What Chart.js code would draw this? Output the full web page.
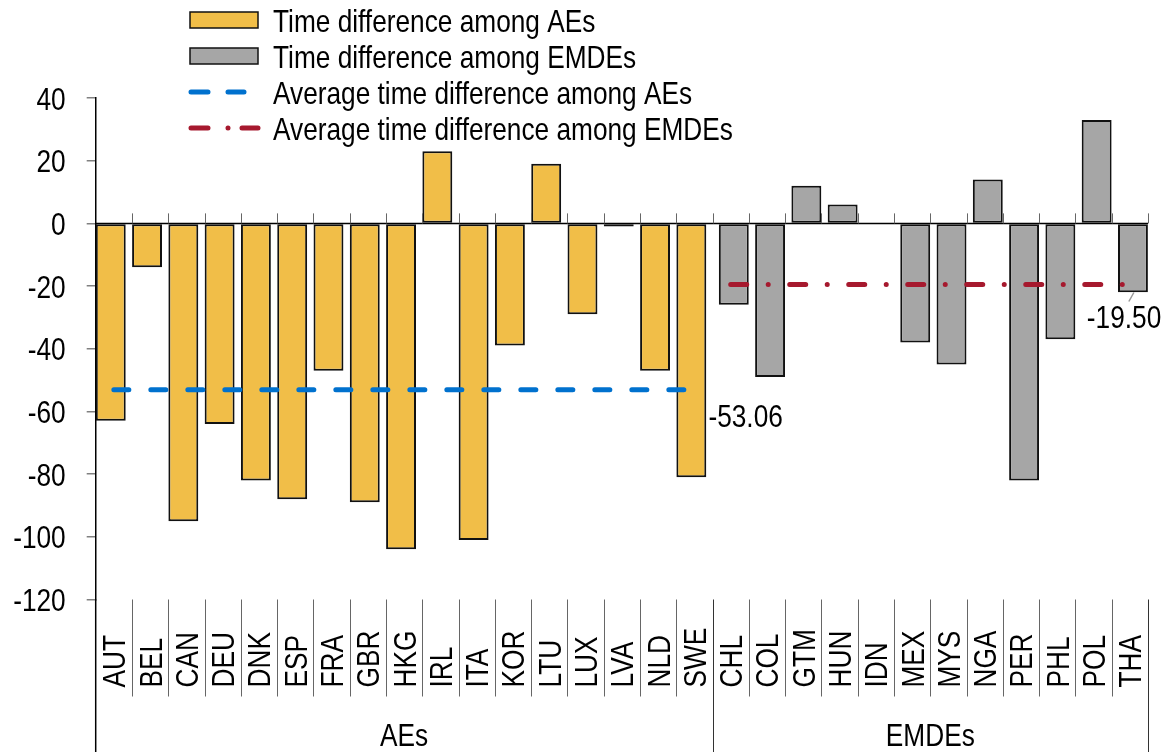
<!DOCTYPE html>
<html>
<head>
<meta charset="utf-8">
<title>Time difference among AEs and EMDEs</title>
<script src="https://cdn.jsdelivr.net/npm/chart.js@4.4.0/dist/chart.umd.min.js"></script>
<style>
  body { margin: 0; background: #fff; }
  #wrap { width: 1163px; height: 752px; position: relative; }
</style>
</head>
<body>
<div id="wrap"><canvas id="grafico"></canvas></div>
<script>
// Countries in each group
const aeCountries = ['AUT', 'BEL', 'CAN', 'DEU', 'DNK', 'ESP', 'FRA', 'GBR', 'HKG', 'IRL', 'ITA', 'KOR', 'LTU', 'LUX', 'LVA', 'NLD', 'SWE'];
const emdeCountries = ['CHL', 'COL', 'GTM', 'HUN', 'IDN', 'MEX', 'MYS', 'NGA', 'PER', 'PHL', 'POL', 'THA'];

// Values
const aeValues = [-63, -14, -95, -64, -82, -88, -47, -89, -104, 23, -101, -39, 19, -29, -1, -47, -81];
const emdeValues = [-26, -49, 12, 6, 0, -38, -45, 14, -82, -37, 33, -22];
const aeAverage = -53.06;
const emdeAverage = -19.50;

const yTicks = [40, 20, 0, -20, -40, -60, -80, -100, -120];
const groupNames = ['AEs', 'EMDEs'];
const legendNames = [
    'Time difference among AEs',
    'Time difference among EMDEs',
    'Average time difference among AEs',
    'Average time difference among EMDEs'
];

const corAmarelo = '#F1BE48';
const corCinza = '#A6A6A6';
const corAzul = '#0071CE';
const corVermelho = '#A6192E';
// no narrow font installed, so the normal one is squeezed by hand
const fonte = '32px "Liberation Sans", Arial, sans-serif';
const aperto = 0.82;
const meiaAltura = 11.5;

// Build the arrays the library needs
const labels = aeCountries.concat(emdeCountries);
const nadaAe = aeCountries.map(() => null);
const nadaEmde = emdeCountries.map(() => null);
const aeBars = aeValues.concat(nadaEmde);
const emdeBars = nadaAe.concat(emdeValues);
const aeLine = aeCountries.map(() => aeAverage).concat(nadaEmde);
const emdeLine = nadaAe.concat(emdeCountries.map(() => emdeAverage));

// write squeezed text, (x, y) is the baseline point
function textoEstreito(ctx, txt, x, y, alinhar, girar) {
    ctx.save();
    ctx.translate(x, y);
    if (girar) ctx.rotate(-Math.PI / 2);
    ctx.scale(aperto, 1);
    ctx.textAlign = alinhar;
    ctx.fillText(txt, 0, girar ? meiaAltura : 0);
    ctx.restore();
}

// Extra drawing: zero line, labels, groups, data labels, legend
const desenhoExtra = {
    id: 'desenhoExtra',
    afterDatasetsDraw(chart) {
        const ctx = chart.ctx;
        const xs = chart.scales.x;
        const ys = chart.scales.y;
        const area = chart.chartArea;
        const passo = xs.getPixelForValue(1) - xs.getPixelForValue(0);
        const y0 = ys.getPixelForValue(0);
        const fundo = chart.height;
        const nAe = aeCountries.length;

        ctx.save();

        // zero line with small marks between categories
        ctx.strokeStyle = '#000';
        ctx.lineWidth = 1.5;
        ctx.beginPath();
        ctx.moveTo(area.left, y0);
        ctx.lineTo(area.right, y0);
        ctx.stroke();
        ctx.strokeStyle = '#666';
        ctx.lineWidth = 1;
        for (let i = 1; i <= labels.length; i++) {
            const bx = Math.round(xs.getPixelForValue(i) - passo / 2) + 0.5;
            ctx.beginPath();
            ctx.moveTo(bx, y0 - 10);
            ctx.lineTo(bx, y0);
            ctx.stroke();
        }

        // separators under the plot
        for (let i = 1; i <= labels.length; i++) {
            const bx = Math.round(xs.getPixelForValue(i) - passo / 2) + 0.5;
            const longa = (i === nAe || i === labels.length);
            ctx.strokeStyle = longa ? '#333' : '#666';
            ctx.beginPath();
            ctx.moveTo(bx, area.bottom);
            ctx.lineTo(bx, longa ? fundo : area.bottom + 97);
            ctx.stroke();
        }
        // y axis goes all the way down
        ctx.strokeStyle = '#000';
        ctx.lineWidth = 1.5;
        ctx.beginPath();
        ctx.moveTo(area.left, area.bottom);
        ctx.lineTo(area.left, fundo);
        ctx.stroke();

        ctx.fillStyle = '#000';
        ctx.font = fonte;
        ctx.textBaseline = 'alphabetic';

        // y tick labels
        yTicks.forEach(v => {
            textoEstreito(ctx, String(v), area.left - 30, ys.getPixelForValue(v) + meiaAltura, 'right', false);
        });

        // category labels, rotated
        labels.forEach((nome, i) => {
            textoEstreito(ctx, nome, xs.getPixelForValue(i), area.bottom + 88, 'left', true);
        });

        // group labels
        const limite = xs.getPixelForValue(nAe) - passo / 2;
        textoEstreito(ctx, groupNames[0], (area.left + limite) / 2, fundo - 6, 'center', false);
        textoEstreito(ctx, groupNames[1], (limite + area.right) / 2, fundo - 6, 'center', false);

        // data labels for the averages
        const yAe = ys.getPixelForValue(aeAverage);
        textoEstreito(ctx, aeAverage.toFixed(2), xs.getPixelForValue(nAe - 1) + 14, yAe + 37, 'left', false);
        const yEm = ys.getPixelForValue(emdeAverage);
        const xEm = xs.getPixelForValue(labels.length - 1);
        textoEstreito(ctx, emdeAverage.toFixed(2), xEm - 43, yEm + 44, 'left', false);
        ctx.strokeStyle = '#999';
        ctx.lineWidth = 1.5;
        ctx.beginPath();
        ctx.moveTo(xEm + 4, yEm + 8);
        ctx.lineTo(xEm - 1, yEm + 17);
        ctx.stroke();

        // legend
        const lx = 190, tx = 273;
        const linhas = [20, 56, 92, 128];
        [corAmarelo, corCinza].forEach((cor, k) => {
            ctx.fillStyle = cor;
            ctx.fillRect(lx, linhas[k] - 8, 68, 16);
            ctx.strokeStyle = '#111';
            ctx.lineWidth = 1.5;
            ctx.strokeRect(lx, linhas[k] - 8, 68, 16);
        });
        ctx.lineCap = 'round';
        ctx.lineWidth = 5;
        ctx.strokeStyle = corAzul;
        ctx.beginPath();
        ctx.moveTo(lx + 1, linhas[2]); ctx.lineTo(lx + 18, linhas[2]);
        ctx.moveTo(lx + 38, linhas[2]); ctx.lineTo(lx + 54, linhas[2]);
        ctx.stroke();
        ctx.strokeStyle = corVermelho;
        ctx.beginPath();
        ctx.moveTo(lx + 1, linhas[3]); ctx.lineTo(lx + 18, linhas[3]);
        ctx.moveTo(lx + 38, linhas[3]); ctx.lineTo(lx + 38.01, linhas[3]);
        ctx.moveTo(lx + 52, linhas[3]); ctx.lineTo(lx + 68, linhas[3]);
        ctx.stroke();
        ctx.fillStyle = '#000';
        legendNames.forEach((nome, k) => textoEstreito(ctx, nome, tx, linhas[k] + meiaAltura, 'left', false));

        ctx.restore();
    }
};

var ctxGrafico = document.getElementById('grafico').getContext('2d');
var grafico = new Chart(ctxGrafico, {
    type: 'bar',
    data: {
        labels: labels,
        datasets: [{
            label: legendNames[0],
            data: aeBars,
            backgroundColor: corAmarelo,
            borderColor: '#111',
            borderWidth: 2,
            borderSkipped: false,
            categoryPercentage: 0.34,
            barPercentage: 4.85,
            order: 2
        }, {
            label: legendNames[1],
            data: emdeBars,
            backgroundColor: corCinza,
            borderColor: '#111',
            borderWidth: 2,
            borderSkipped: false,
            categoryPercentage: 0.34,
            barPercentage: 4.85,
            order: 2
        }, {
            type: 'line',
            label: legendNames[2],
            data: aeLine,
            borderColor: corAzul,
            borderWidth: 5,
            borderDash: [15, 22],
            borderCapStyle: 'round',
            pointRadius: 0,
            spanGaps: false,
            order: 1
        }, {
            type: 'line',
            label: legendNames[3],
            data: emdeLine,
            borderColor: corVermelho,
            borderWidth: 5,
            borderDash: [16, 21.5, 0.01, 21.5],
            borderCapStyle: 'round',
            pointRadius: 0,
            spanGaps: false,
            order: 1
        }]
    },
    options: {
        responsive: true,
        maintainAspectRatio: false,
        animation: false,
        layout: { padding: { top: 98, right: 15, left: 0, bottom: 0 } },
        plugins: {
            legend: { display: false },
            tooltip: { enabled: false }
        },
        scales: {
            x: {
                ticks: { display: false },
                grid: { display: false },
                border: { display: false },
                afterFit: (scale) => { scale.height = 152.5; }
            },
            y: {
                min: -120,
                max: 40,
                afterBuildTicks: (scale) => { scale.ticks = yTicks.map(v => ({ value: v })); },
                ticks: { display: false },
                grid: {
                    drawOnChartArea: false,
                    drawTicks: true,
                    tickLength: 9,
                    color: '#808080',
                    lineWidth: 1.5
                },
                border: { display: true, color: '#000', width: 1.5 },
                afterFit: (scale) => { scale.width = 95.7; }
            }
        }
    },
    plugins: [desenhoExtra]
});
</script>
</body>
</html>
